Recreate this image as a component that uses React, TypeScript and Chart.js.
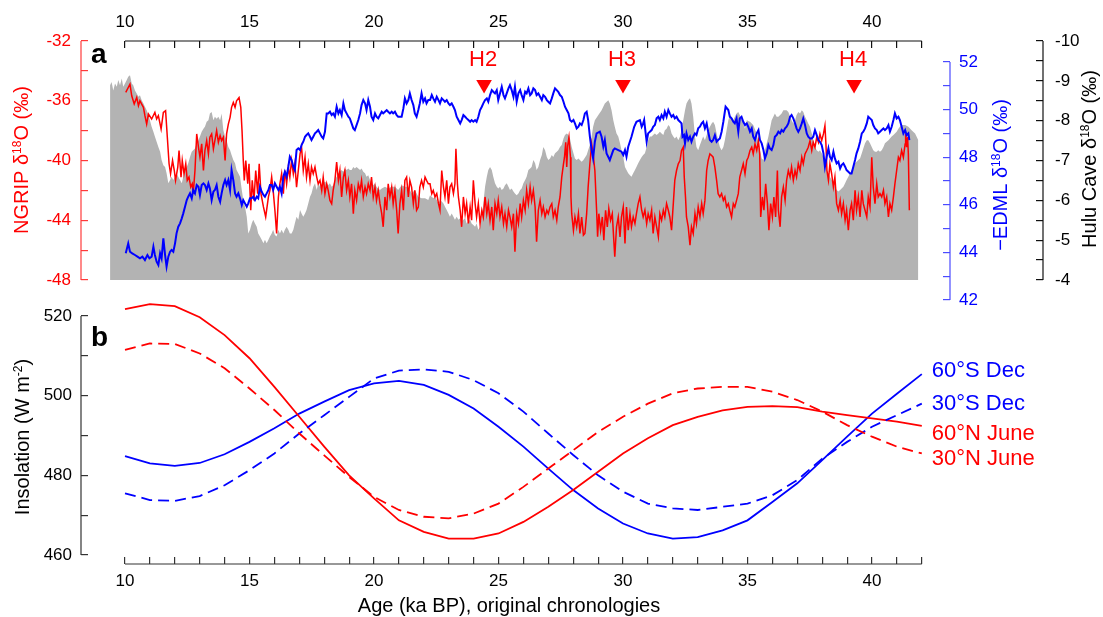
import React, { useEffect, useRef } from 'react';
import { Chart, registerables } from 'chart.js';

Chart.register(...registerables);

const FONT = '"Liberation Sans", Arial, Helvetica, sans-serif';

// ---------------- axis ticks ----------------
const ageTicks = [10, 11, 12, 13, 14, 15, 16, 17, 18, 19, 20, 21, 22, 23, 24, 25, 26, 27, 28, 29, 30, 31, 32, 33, 34, 35, 36, 37, 38, 39, 40, 41, 42];
const ngripTicks = [-48, -46, -44, -42, -40, -38, -36, -34, -32];
const edmlTicks = [42, 43, 44, 45, 46, 47, 48, 49, 50, 51, 52];
const huluTicks = [-10, -9.5, -9, -8.5, -8, -7.5, -7, -6.5, -6, -5.5, -5, -4.5, -4];
const insolTicks = [460, 470, 480, 490, 500, 510, 520];

// ---------------- panel a data: [age ka BP, value] ----------------
const ngrip: [number, number][] = [
  [10.03, -35.44], [10.2, -34.89], [10.27, -35.67], [10.37, -36.22], [10.47, -35.78], [10.54, -36.33], [10.6, -36], [10.67, -36.22], [10.74, -36.44], [10.8, -37], [10.87, -37.56], [10.94, -36.89], [11.07, -37.22], [11.2, -36.78], [11.27, -37.22], [11.34, -37], [11.45, -37.89], [11.54, -36.78], [11.63, -36.67], [11.7, -38.44], [11.77, -40.22], [11.83, -40.89], [11.91, -40], [11.98, -40.67], [12.03, -41.33], [12.12, -40.44], [12.17, -39.33], [12.25, -41.11], [12.3, -40], [12.37, -40.89], [12.44, -40.22], [12.5, -41.33], [12.57, -41.11], [12.64, -41.78], [12.7, -41.56], [12.74, -42.22], [12.81, -40.67], [12.88, -38.22], [12.95, -39.11], [13.01, -39.78], [13.08, -38.89], [13.15, -40.67], [13.21, -39.33], [13.28, -38.67], [13.35, -39.56], [13.41, -38.44], [13.48, -38.22], [13.55, -39.22], [13.61, -38.67], [13.68, -38], [13.75, -38.78], [13.82, -38.33], [13.88, -38.67], [13.95, -38.44], [14.02, -40], [14.08, -38.22], [14.15, -37.56], [14.22, -37.11], [14.28, -36.44], [14.35, -36.11], [14.42, -36.44], [14.48, -36], [14.58, -35.78], [14.65, -36.44], [14.7, -38], [14.75, -40], [14.79, -41.33], [14.85, -40], [14.93, -41.56], [14.98, -40.22], [15.05, -43.33], [15.11, -41.33], [15.18, -42.67], [15.25, -40.67], [15.33, -42.22], [15.39, -40.22], [15.46, -42.22], [15.56, -43.11], [15.65, -43.78], [15.76, -42.44], [15.82, -42],
  [15.89, -41.11], [15.95, -42], [16.02, -43.33], [16.09, -44.89], [16.16, -42.44], [16.22, -41.56], [16.29, -40.89], [16.36, -42.22], [16.42, -40.67], [16.49, -41.56], [16.56, -40.44], [16.62, -41.11], [16.69, -40], [16.76, -40.89], [16.82, -40.22], [16.89, -41.78], [16.96, -40.67], [17.03, -39.56], [17.09, -39.11], [17.16, -40.67], [17.23, -39.78], [17.29, -41.11], [17.36, -40.22], [17.43, -41.33], [17.49, -40.44], [17.56, -40.89], [17.63, -40.44], [17.7, -41.11], [17.76, -41.56], [17.83, -41.33], [17.9, -42], [17.96, -41.11], [18.03, -42.22], [18.1, -41.56], [18.16, -42], [18.23, -42.67], [18.3, -42.89], [18.36, -42], [18.43, -41.33], [18.5, -40.11], [18.57, -41.33], [18.63, -40.67], [18.7, -42.44], [18.77, -41.11], [18.83, -40.67], [18.9, -42], [18.97, -41.33], [19.03, -42.44], [19.1, -41.56], [19.17, -43.56], [19.23, -42], [19.3, -42.67], [19.37, -41.56], [19.44, -42], [19.5, -41.33], [19.57, -42.44], [19.64, -41.78], [19.7, -42.22], [19.77, -41.56], [19.84, -42], [19.9, -41.11], [19.97, -42.44], [20.04, -41.78], [20.1, -42.67], [20.17, -42], [20.24, -42.89], [20.31, -43.56], [20.37, -44.44], [20.44, -42.44], [20.51, -43.33], [20.57, -41.56], [20.64, -42.44], [20.71, -41.78], [20.77, -42.89], [20.84, -42], [20.91, -43.33], [20.97, -44.89], [21.04, -42.89], [21.11, -42], [21.18, -43.33], [21.24, -41.33], [21.31, -41.11], [21.38, -42.44], [21.44, -41.33], [21.51, -41.78], [21.58, -42.89], [21.64, -42], [21.71, -43.33], [21.78, -43.11], [21.84, -41.78], [21.91, -41.33], [21.98, -41.78], [22.05, -41.11], [22.11, -41.33], [22.18, -41.56],
  [22.25, -41.56], [22.32, -42.22], [22.38, -42], [22.45, -42.44], [22.52, -42.22], [22.59, -42.89], [22.65, -43.33], [22.72, -40.67], [22.79, -41.78], [22.85, -42.44], [22.92, -41.33], [22.99, -42.89], [23.05, -41.78], [23.12, -41.56], [23.19, -42.22], [23.25, -41.56], [23.29, -39.22], [23.35, -41.56], [23.39, -42.44], [23.46, -43.33], [23.52, -44.44], [23.59, -42.44], [23.66, -43.56], [23.72, -42.89], [23.79, -44.22], [23.86, -43.11], [23.92, -44], [23.99, -41.33], [24.06, -42.89], [24.12, -43.78], [24.19, -42.89], [24.26, -44.22], [24.33, -43.33], [24.39, -43.78], [24.46, -42.44], [24.53, -43.56], [24.59, -42.89], [24.66, -44], [24.73, -43.11], [24.79, -44.67], [24.86, -42.89], [24.93, -43.56], [24.99, -42.67], [25.06, -43.78], [25.13, -43.11], [25.2, -44.22], [25.26, -43.56], [25.33, -44.44], [25.4, -43.33], [25.46, -43.78], [25.53, -44.44], [25.6, -43.56], [25.66, -46.11], [25.73, -43.56], [25.8, -44.22], [25.87, -42.89], [25.93, -43.78], [26, -42.67], [26.07, -43.33], [26.13, -42], [26.2, -42.89], [26.27, -41.78], [26.33, -42.67], [26.4, -42], [26.47, -43.11], [26.53, -45.44], [26.6, -43.33], [26.67, -42.67], [26.74, -43.56], [26.8, -43.11], [26.87, -43.78], [26.94, -43.33], [27, -43.56], [27.07, -43.11], [27.14, -42.89], [27.2, -43.78], [27.27, -43.33], [27.34, -44], [27.4, -43.11], [27.47, -42.44], [27.54, -41.11], [27.61, -40.22], [27.65, -39.78], [27.7, -38.78], [27.74, -40.44], [27.78, -39], [27.83, -38.44], [27.89, -39.78], [27.91, -42.44], [27.94, -43.56], [28.01, -44.67], [28.07, -43.78], [28.14, -44.44], [28.21, -43.56], [28.27, -44.89], [28.34, -43.78], [28.41, -45],
  [28.47, -44.89], [28.54, -43.56], [28.6, -41.78], [28.67, -40.22], [28.74, -38.9], [28.8, -39.56], [28.87, -40.67], [28.94, -43.33], [28.98, -45.11], [29.03, -43.56], [29.1, -44.67], [29.17, -43.78], [29.23, -45.33], [29.3, -43.33], [29.37, -44.44], [29.43, -43.22], [29.5, -44], [29.57, -43.56], [29.63, -45.33], [29.67, -46.44], [29.74, -44.44], [29.81, -43.78], [29.88, -45.11], [29.94, -43.78], [30.01, -43.11], [30.08, -45.56], [30.14, -43.11], [30.21, -44.67], [30.28, -43.56], [30.34, -44.44], [30.41, -43.78], [30.48, -44.22], [30.54, -43.56], [30.61, -42.89], [30.68, -42.44], [30.75, -43.33], [30.81, -43.78], [30.88, -43.33], [30.95, -44.22], [31.01, -43.56], [31.08, -44], [31.15, -43.33], [31.21, -44.89], [31.28, -43.78], [31.35, -44.44], [31.42, -45.11], [31.48, -43.56], [31.55, -44], [31.62, -43.33], [31.68, -43.78], [31.75, -42.89], [31.82, -43.33], [31.88, -43.78], [31.95, -44.67], [32.02, -42.89], [32.08, -41.33], [32.15, -40.67], [32.22, -40.22], [32.29, -40], [32.35, -39.33], [32.42, -39.11], [32.46, -41.11], [32.51, -42.44], [32.55, -43.78], [32.62, -44.44], [32.69, -45.67], [32.75, -44.44], [32.82, -44.89], [32.89, -43.56], [32.95, -44.22], [33.02, -43.11], [33.09, -43.78], [33.16, -42.89], [33.22, -43.56], [33.29, -42.67], [33.36, -40.67], [33.42, -40], [33.49, -39.56], [33.56, -39.67], [33.62, -39.78], [33.69, -40.44], [33.76, -41.33], [33.82, -42.22], [33.89, -42.44], [33.96, -42.22], [34.03, -42.67], [34.09, -42.44], [34.16, -43.11], [34.23, -42.89], [34.29, -43.33], [34.36, -43.78], [34.43, -42.89], [34.49, -43.11], [34.56, -42.67], [34.63, -42.22], [34.69, -41.11], [34.76, -40.67], [34.83, -40.22], [34.9, -40.89],
  [34.97, -40], [35.03, -39.78], [35.1, -39.33], [35.17, -39.11], [35.23, -39.56], [35.3, -38.89], [35.37, -39.33], [35.44, -38.67], [35.49, -39.56], [35.53, -43.78], [35.6, -42.44], [35.66, -43.33], [35.73, -41.56], [35.8, -42.89], [35.86, -44.67], [35.93, -42.89], [36, -43.78], [36.06, -42.44], [36.13, -43.78], [36.2, -40.67], [36.24, -43.33], [36.31, -44.44], [36.37, -42.44], [36.44, -41.78], [36.51, -42.67], [36.57, -41.33], [36.64, -40.67], [36.71, -41.11], [36.77, -40.44], [36.84, -41.33], [36.91, -40.67], [36.97, -41.11], [37.04, -40.22], [37.11, -40.67], [37.18, -39.78], [37.24, -40.22], [37.31, -39.56], [37.38, -39.33], [37.44, -39.11], [37.51, -38.67], [37.58, -39.33], [37.64, -38.78], [37.71, -39.11], [37.78, -38.44], [37.85, -38.78], [37.91, -38.22], [37.98, -38.67], [38.05, -38.22], [38.11, -37.67], [38.15, -38.89], [38.19, -40.67], [38.25, -41.33], [38.31, -40.22], [38.38, -40.89], [38.45, -41.78], [38.51, -41.11], [38.58, -42.89], [38.65, -43.33], [38.72, -42.67], [38.78, -43.56], [38.85, -42.89], [38.92, -44], [38.98, -43.33], [39.05, -44.67], [39.12, -43.33], [39.18, -42.89], [39.25, -44], [39.32, -42], [39.38, -43.33], [39.45, -42.44], [39.52, -43.78], [39.59, -42], [39.65, -42.89], [39.72, -43.33], [39.79, -43.78], [39.85, -42.44], [39.92, -43.11], [39.99, -39.78], [40.05, -41.78], [40.12, -42.89], [40.19, -41.56], [40.25, -42.44], [40.32, -42.22], [40.39, -42.44], [40.46, -42], [40.52, -42.89], [40.59, -42.44], [40.66, -43.78], [40.72, -42.89], [40.79, -43.33], [40.86, -42.44], [40.92, -41.56], [40.99, -40.67], [41.06, -39.78], [41.12, -40], [41.19, -39.33], [41.26, -39.78], [41.33, -38.89], [41.35, -38.22], [41.39, -39.11], [41.43, -38.44], [41.46, -39.56], [41.5, -43.33],
];

const edml: [number, number][] = [
  [10.03, 43.96], [10.13, 44.38], [10.2, 44.03], [10.29, 43.96], [10.4, 43.89], [10.5, 43.82], [10.6, 43.75], [10.7, 43.82], [10.8, 43.68], [10.9, 43.89], [10.98, 43.75], [11.07, 43.82], [11.14, 44.24], [11.2, 43.89], [11.27, 43.61], [11.34, 43.47], [11.41, 43.96], [11.47, 43.75], [11.54, 44.59], [11.61, 43.89], [11.67, 43.4], [11.74, 43.82], [11.81, 44.03], [11.87, 44.1], [11.94, 44.03], [12.01, 44.38], [12.07, 44.8], [12.14, 45.08], [12.21, 45.22], [12.28, 45.43], [12.34, 45.64], [12.41, 45.92], [12.48, 46.2], [12.54, 46.34], [12.61, 46.48], [12.68, 46.27], [12.74, 46.62], [12.81, 46.48], [12.88, 46.83], [12.95, 46.76], [13.01, 46.41], [13.08, 46.83], [13.15, 46.9], [13.21, 46.83], [13.28, 46.62], [13.35, 46.9], [13.41, 46.69], [13.48, 46.2], [13.55, 46.55], [13.61, 46.62], [13.68, 46.83], [13.75, 46.34], [13.82, 46.13], [13.88, 46.48], [13.95, 46.83], [14.02, 47.04], [14.08, 46.83], [14.15, 47.04], [14.22, 46.62], [14.28, 47.46], [14.35, 47.04], [14.42, 46.48], [14.48, 46.34], [14.55, 46.48], [14.62, 46.27], [14.69, 45.99], [14.75, 46.2], [14.82, 46.06], [14.89, 45.92], [14.95, 46.06], [15.02, 46.27], [15.09, 46.27], [15.15, 46.34], [15.22, 46.2], [15.29, 46.34], [15.35, 46.27], [15.42, 46.76], [15.49, 46.55], [15.56, 46.41], [15.62, 46.34], [15.69, 46.48], [15.76, 46.62], [15.82, 46.83],
  [15.89, 46.83], [15.95, 46.62], [16.02, 46.9], [16.09, 46.76], [16.16, 46.62], [16.22, 46.76], [16.29, 46.48], [16.36, 47.18], [16.42, 47.39], [16.49, 47.18], [16.56, 47.6], [16.62, 48.02], [16.69, 47.88], [16.76, 47.6], [16.82, 47.46], [16.89, 48.3], [16.96, 48.37], [17.03, 48.3], [17.09, 48.51], [17.16, 48.65], [17.23, 48.86], [17.29, 48.93], [17.36, 49], [17.43, 48.86], [17.49, 48.72], [17.56, 48.86], [17.63, 49], [17.7, 49.07], [17.76, 49.14], [17.83, 49], [17.9, 48.86], [17.96, 48.79], [18.03, 49.07], [18.1, 49.84], [18.16, 49.84], [18.23, 49.91], [18.3, 49.77], [18.36, 49.84], [18.43, 49.7], [18.5, 50.12], [18.57, 49.84], [18.63, 49.98], [18.7, 49.77], [18.77, 50.26], [18.83, 49.98], [18.9, 49.84], [18.97, 49.7], [19.03, 49.63], [19.1, 49.42], [19.17, 49.21], [19.23, 49.14], [19.3, 49.35], [19.37, 49.56], [19.44, 49.84], [19.5, 50.19], [19.57, 50.4], [19.64, 50.26], [19.7, 49.98], [19.77, 50.4], [19.84, 50.12], [19.9, 49.7], [19.97, 49.56], [20.04, 49.84], [20.1, 49.7], [20.17, 49.63], [20.24, 49.77], [20.31, 49.91], [20.37, 49.84], [20.44, 49.91], [20.51, 49.98], [20.57, 49.91], [20.64, 49.84], [20.71, 49.91], [20.77, 49.84], [20.84, 49.91], [20.91, 49.77], [20.97, 49.7], [21.04, 49.7], [21.11, 49.7], [21.18, 50.05], [21.24, 50.47], [21.31, 50.26], [21.38, 50.4], [21.44, 50.68], [21.51, 50.4], [21.58, 50.19], [21.64, 49.84], [21.71, 49.7], [21.78, 49.98], [21.84, 50.26], [21.91, 50.68], [21.98, 50.33], [22.05, 50.47], [22.11, 50.26], [22.18, 50.4],
  [22.25, 50.4], [22.32, 50.61], [22.38, 50.47], [22.45, 50.33], [22.52, 50.54], [22.59, 50.4], [22.65, 50.26], [22.72, 50.47], [22.79, 50.4], [22.85, 50.33], [22.92, 50.4], [22.99, 50.26], [23.05, 50.19], [23.12, 50.26], [23.19, 50.12], [23.25, 49.98], [23.32, 49.7], [23.39, 49.56], [23.46, 49.42], [23.52, 49.56], [23.59, 49.77], [23.66, 49.7], [23.72, 49.63], [23.79, 49.56], [23.86, 49.49], [23.92, 49.56], [23.99, 49.49], [24.06, 49.56], [24.12, 49.49], [24.19, 49.7], [24.26, 49.98], [24.33, 50.12], [24.39, 50.26], [24.46, 50.4], [24.53, 50.47], [24.59, 50.33], [24.66, 50.61], [24.73, 50.82], [24.79, 50.75], [24.86, 50.68], [24.93, 50.82], [24.99, 50.4], [25.06, 50.68], [25.13, 50.96], [25.2, 50.61], [25.26, 50.47], [25.33, 50.68], [25.4, 50.89], [25.46, 51.03], [25.53, 50.82], [25.6, 50.54], [25.66, 50.96], [25.73, 50.33], [25.8, 50.68], [25.87, 50.82], [25.93, 50.61], [26, 50.4], [26.07, 50.75], [26.13, 50.68], [26.2, 50.89], [26.27, 50.61], [26.33, 50.68], [26.4, 50.89], [26.47, 50.82], [26.53, 50.61], [26.6, 50.68], [26.67, 50.54], [26.74, 50.4], [26.8, 50.61], [26.87, 50.54], [26.94, 50.4], [27, 50.33], [27.07, 50.26], [27.14, 50.47], [27.2, 50.68], [27.27, 50.89], [27.34, 50.82], [27.4, 50.75], [27.47, 50.61], [27.54, 50.54], [27.61, 50.33], [27.67, 50.12], [27.74, 49.98], [27.81, 49.84], [27.87, 49.56], [27.94, 49.49], [28.01, 49.56], [28.07, 49.42], [28.14, 49.21], [28.21, 49.28], [28.27, 49.42], [28.34, 49.35], [28.41, 49.56],
  [28.47, 49.84], [28.54, 49.91], [28.6, 49.56], [28.67, 48.86], [28.74, 48.3], [28.8, 47.95], [28.87, 48.65], [28.94, 49], [29.07, 49.07], [29.14, 48.86], [29.21, 48.44], [29.27, 48.72], [29.34, 48.16], [29.47, 47.88], [29.61, 48.3], [29.67, 48.37], [29.81, 48.3], [29.94, 48.23], [30.01, 48.09], [30.08, 48.3], [30.14, 48.02], [30.21, 48.44], [30.34, 48.86], [30.45, 49.28], [30.54, 49.49], [30.68, 49.56], [30.75, 49.28], [30.81, 49.42], [30.85, 49.56], [30.91, 49], [30.95, 48.65], [31.01, 49], [31.15, 49.14], [31.21, 49.28], [31.28, 49.35], [31.35, 49.63], [31.42, 49.7], [31.48, 49.56], [31.55, 49.77], [31.62, 49.63], [31.68, 49.91], [31.75, 49.7], [31.82, 49.98], [31.88, 49.84], [31.95, 49.7], [32.02, 49.77], [32.08, 49.63], [32.15, 49.7], [32.22, 49.56], [32.29, 49.49], [32.35, 49.42], [32.39, 48.86], [32.45, 48.93], [32.49, 48.58], [32.55, 49], [32.62, 48.72], [32.69, 48.86], [32.75, 48.65], [32.82, 48.86], [32.89, 49], [32.95, 48.93], [33.02, 49.21], [33.09, 49.28], [33.16, 49.42], [33.22, 49.49], [33.29, 49.21], [33.36, 49.42], [33.42, 49.07], [33.49, 48.72], [33.56, 48.65], [33.62, 48.72], [33.69, 48.93], [33.76, 48.65], [33.82, 48.72], [33.89, 48.79], [33.96, 49.07], [34.03, 49.49], [34.12, 50.12], [34.23, 49.98], [34.29, 49.7], [34.36, 49.63], [34.43, 49.49], [34.49, 49.42], [34.56, 49.63], [34.63, 49.07], [34.69, 49.63], [34.76, 49.7], [34.83, 49.49], [34.9, 49.35],
  [34.97, 49.42], [35.03, 49.28], [35.1, 49.07], [35.17, 49.21], [35.23, 48.86], [35.3, 48.72], [35.37, 49], [35.44, 49.14], [35.5, 48.72], [35.57, 48.58], [35.64, 48.3], [35.7, 47.95], [35.77, 48.16], [35.84, 48.51], [35.9, 48.37], [35.97, 48.3], [36.04, 48.51], [36.1, 48.86], [36.17, 48.93], [36.24, 49.07], [36.31, 49], [36.37, 49.14], [36.44, 49.07], [36.51, 49.21], [36.57, 49.28], [36.64, 49.42], [36.71, 49.7], [36.77, 49.77], [36.84, 49.63], [36.91, 49.42], [36.97, 49.21], [37.04, 49.07], [37.11, 49.21], [37.18, 49.42], [37.24, 49.63], [37.31, 49.35], [37.38, 49], [37.44, 48.86], [37.51, 48.79], [37.58, 48.79], [37.64, 48.86], [37.71, 49.14], [37.78, 48.93], [37.85, 48.72], [37.91, 48.65], [37.98, 48.51], [38.05, 48.16], [38.11, 47.6], [38.18, 48.02], [38.25, 48.37], [38.31, 48.02], [38.38, 47.88], [38.45, 48.23], [38.51, 47.95], [38.58, 47.74], [38.65, 47.81], [38.72, 47.53], [38.78, 47.67], [38.85, 47.74], [38.92, 47.6], [38.98, 47.46], [39.05, 47.39], [39.12, 47.32], [39.18, 47.32], [39.25, 47.6], [39.32, 47.88], [39.38, 48.16], [39.45, 48.37], [39.52, 48.65], [39.59, 49], [39.65, 49.07], [39.72, 49.21], [39.79, 49.42], [39.85, 49.7], [39.92, 49.63], [39.99, 49.56], [40.05, 49.35], [40.12, 49.21], [40.19, 49.14], [40.25, 49], [40.32, 49.07], [40.39, 49.14], [40.46, 49.21], [40.52, 49.14], [40.59, 49.21], [40.66, 49.35], [40.72, 49.07], [40.79, 49.28], [40.86, 49.56], [40.92, 49.84], [40.99, 49.63], [41.06, 49.7], [41.12, 49.56], [41.19, 49.28], [41.26, 49], [41.33, 49.14], [41.39, 48.93], [41.46, 49], [41.5, 48.72],
];

const hulu: [number, number][] = [
  [9.4, -8.89], [9.46, -8.97], [9.53, -8.76], [9.6, -8.93], [9.67, -8.85], [9.73, -9.02], [9.8, -8.89], [9.87, -9.06], [9.93, -8.85], [10, -8.93], [10.07, -9.02], [10.13, -9.1], [10.2, -9.14], [10.27, -8.93], [10.33, -8.89], [10.4, -8.76], [10.47, -8.68], [10.54, -8.6], [10.6, -8.64], [10.67, -8.51], [10.74, -8.43], [10.8, -8.35], [10.87, -8.26], [10.94, -8.14], [11, -8.01], [11.07, -7.85], [11.14, -7.72], [11.2, -7.6], [11.27, -7.47], [11.34, -7.34], [11.41, -7.22], [11.47, -7.01], [11.54, -6.88], [11.61, -6.84], [11.67, -6.68], [11.74, -6.43], [11.81, -6.51], [11.87, -6.59], [11.94, -6.51], [12.01, -6.59], [12.07, -6.68], [12.14, -6.59], [12.21, -6.51], [12.28, -6.43], [12.34, -6.59], [12.41, -6.76], [12.48, -6.84], [12.54, -6.93], [12.61, -7.09], [12.68, -7.22], [12.74, -7.26], [12.81, -7.3], [12.88, -7.43], [12.95, -7.51], [13.01, -7.6], [13.08, -7.72], [13.15, -7.8], [13.21, -7.85], [13.28, -7.97], [13.35, -8.01], [13.41, -8.18], [13.48, -8.22], [13.55, -8.01], [13.61, -8.1], [13.68, -8.05], [13.75, -8.1], [13.82, -8.01], [13.88, -8.18], [13.95, -7.76], [14.02, -7.6], [14.08, -7.51], [14.15, -7.34], [14.22, -7.26], [14.28, -7.14], [14.35, -7.01], [14.42, -6.93], [14.48, -6.76], [14.55, -6.68], [14.62, -6.59], [14.69, -6.26], [14.75, -6.01], [14.82, -5.84], [14.89, -5.59], [14.95, -5.17], [15.02, -5.26], [15.09, -5.42], [15.15, -5.51], [15.22, -5.42], [15.29, -5.34], [15.35, -5.17], [15.42, -5.09], [15.49, -5.01], [15.56, -4.92], [15.62, -5.01], [15.69, -4.92], [15.76, -5.01], [15.82, -5.09],
  [15.89, -5.17], [15.95, -5.26], [16.02, -5.13], [16.09, -5.09], [16.16, -5.26], [16.22, -5.17], [16.29, -5.26], [16.36, -5.17], [16.42, -5.26], [16.49, -5.34], [16.56, -5.26], [16.62, -5.17], [16.69, -5.17], [16.76, -5.26], [16.82, -5.42], [16.89, -5.59], [16.96, -5.51], [17.03, -5.76], [17.09, -5.67], [17.16, -5.59], [17.23, -5.67], [17.29, -5.76], [17.36, -5.92], [17.43, -6.09], [17.49, -6.17], [17.56, -6.34], [17.63, -6.43], [17.7, -6.26], [17.76, -6.43], [17.83, -6.34], [17.9, -6.38], [17.96, -6.43], [18.03, -6.47], [18.1, -6.43], [18.16, -6.38], [18.23, -6.43], [18.3, -6.34], [18.36, -6.38], [18.43, -6.51], [18.5, -6.59], [18.57, -6.68], [18.63, -6.72], [18.7, -6.76], [18.77, -6.72], [18.83, -6.8], [18.9, -6.76], [18.97, -6.8], [19.03, -6.76], [19.1, -6.76], [19.17, -6.84], [19.23, -6.8], [19.3, -6.84], [19.37, -6.8], [19.44, -6.76], [19.5, -6.8], [19.57, -6.72], [19.64, -6.68], [19.7, -6.59], [19.77, -6.63], [19.84, -6.51], [19.9, -6.43], [19.97, -6.38], [20.04, -6.43], [20.1, -6.34], [20.17, -6.3], [20.24, -6.26], [20.31, -6.3], [20.44, -6.34], [20.57, -6.3], [20.71, -6.34], [20.84, -6.34], [20.97, -6.26], [21.11, -6.38], [21.24, -6.34], [21.38, -6.34], [21.51, -6.17], [21.64, -6.26], [21.78, -6.09], [21.91, -6.05], [22.05, -6.05], [22.18, -6.01],
  [22.25, -6.13], [22.32, -6.09], [22.38, -6.05], [22.45, -6.09], [22.52, -6.01], [22.59, -5.92], [22.65, -6.01], [22.72, -5.97], [22.79, -5.92], [22.85, -5.84], [22.92, -5.76], [22.99, -5.67], [23.05, -5.59], [23.12, -5.67], [23.19, -5.59], [23.25, -5.51], [23.32, -5.59], [23.39, -5.51], [23.46, -5.55], [23.52, -5.47], [23.59, -5.51], [23.66, -5.55], [23.72, -5.42], [23.79, -5.47], [23.86, -5.51], [23.92, -5.42], [23.99, -5.38], [24.06, -5.34], [24.12, -5.42], [24.19, -5.26], [24.26, -5.34], [24.33, -5.59], [24.39, -5.92], [24.46, -6.34], [24.53, -6.59], [24.59, -6.76], [24.66, -6.84], [24.73, -6.76], [24.79, -6.59], [24.86, -6.43], [24.93, -6.34], [24.99, -6.3], [25.06, -6.34], [25.13, -6.26], [25.2, -6.3], [25.26, -6.38], [25.33, -6.43], [25.4, -6.34], [25.46, -6.26], [25.53, -6.3], [25.6, -6.22], [25.66, -6.17], [25.73, -6.13], [25.8, -6.17], [25.87, -6.26], [25.93, -6.3], [26, -6.43], [26.07, -6.51], [26.13, -6.59], [26.2, -6.76], [26.27, -6.8], [26.33, -6.84], [26.4, -7.01], [26.47, -6.93], [26.53, -6.76], [26.6, -6.84], [26.67, -7.01], [26.74, -7.14], [26.8, -7.34], [26.87, -7.26], [26.94, -7.09], [27, -7.01], [27.07, -7.05], [27.14, -7.14], [27.2, -7.09], [27.27, -7.18], [27.34, -7.22], [27.4, -7.26], [27.47, -7.34], [27.54, -7.39], [27.61, -7.55], [27.67, -7.64], [27.74, -7.68], [27.81, -7.64], [27.87, -7.55], [27.94, -7.34], [28.01, -7.18], [28.07, -7.05], [28.14, -7.01], [28.21, -7.05], [28.27, -7.01], [28.34, -6.97], [28.41, -7.01],
  [28.54, -7.14], [28.6, -7.26], [28.67, -7.39], [28.74, -7.6], [28.8, -7.85], [28.87, -8.01], [29.01, -8.14], [29.14, -8.26], [29.27, -8.43], [29.41, -8.51], [29.47, -8.43], [29.54, -8.26], [29.61, -8.01], [29.67, -7.85], [29.74, -7.68], [29.81, -7.6], [29.88, -7.43], [29.94, -7.26], [30.01, -7.09], [30.08, -6.84], [30.14, -6.76], [30.21, -6.68], [30.28, -6.63], [30.34, -6.59], [30.41, -6.68], [30.48, -6.76], [30.54, -6.84], [30.61, -6.93], [30.68, -7.01], [30.75, -7.09], [30.81, -7.14], [30.88, -7.18], [30.95, -7.34], [31.01, -7.51], [31.08, -7.6], [31.15, -7.6], [31.21, -7.64], [31.28, -7.68], [31.35, -7.64], [31.42, -7.68], [31.48, -7.72], [31.55, -7.68], [31.62, -7.64], [31.68, -7.76], [31.75, -7.8], [31.82, -7.89], [31.88, -7.85], [31.95, -7.68], [32.02, -7.6], [32.08, -7.55], [32.15, -7.6], [32.22, -7.51], [32.29, -7.6], [32.35, -7.76], [32.42, -8.01], [32.49, -8.26], [32.55, -8.43], [32.62, -8.51], [32.69, -8.56], [32.75, -8.43], [32.82, -8.1], [32.89, -7.6], [32.95, -7.34], [33.02, -7.26], [33.09, -7.39], [33.16, -7.51], [33.22, -7.6], [33.29, -7.51], [33.36, -7.64], [33.42, -7.76], [33.49, -7.85], [33.56, -7.93], [33.62, -7.97], [33.69, -7.89], [33.76, -7.68], [33.82, -7.51], [33.89, -7.34], [33.96, -7.26], [34.03, -7.34], [34.09, -7.51], [34.16, -7.76], [34.23, -8.01], [34.29, -8.14], [34.36, -8.1], [34.43, -8.01], [34.49, -8.1], [34.56, -8.18], [34.63, -8.22], [34.69, -8.14], [34.76, -8.05], [34.83, -7.93], [34.9, -7.8],
  [34.97, -8.01], [35.1, -7.97], [35.23, -7.89], [35.37, -7.68], [35.5, -7.26], [35.57, -7.05], [35.64, -7.01], [35.7, -7.26], [35.84, -7.6], [35.97, -8.01], [36.1, -8.18], [36.17, -8.1], [36.24, -8.1], [36.37, -8.18], [36.44, -8.26], [36.57, -8.26], [36.64, -8.22], [36.71, -8.1], [36.77, -8.01], [36.84, -7.93], [36.91, -8.01], [36.97, -8.14], [37.04, -8.22], [37.11, -8.18], [37.18, -8.26], [37.24, -8.22], [37.31, -8.1], [37.38, -8.01], [37.44, -7.93], [37.51, -7.85], [37.58, -7.68], [37.64, -7.51], [37.71, -7.34], [37.78, -7.26], [37.85, -7.22], [37.91, -7.26], [37.98, -7.18], [38.05, -7.09], [38.11, -6.93], [38.18, -6.76], [38.25, -6.68], [38.31, -6.59], [38.38, -6.51], [38.45, -6.43], [38.51, -6.34], [38.58, -6.26], [38.65, -6.22], [38.72, -6.26], [38.78, -6.3], [38.85, -6.34], [38.92, -6.43], [38.98, -6.51], [39.05, -6.59], [39.12, -6.68], [39.18, -6.76], [39.25, -6.84], [39.32, -6.93], [39.38, -6.97], [39.45, -7.01], [39.52, -7.05], [39.59, -7.18], [39.65, -7.3], [39.72, -7.43], [39.79, -7.51], [39.85, -7.51], [39.92, -7.43], [39.99, -7.34], [40.05, -7.26], [40.12, -7.22], [40.19, -7.22], [40.25, -7.26], [40.32, -7.22], [40.39, -7.26], [40.46, -7.34], [40.52, -7.43], [40.59, -7.47], [40.66, -7.51], [40.72, -7.55], [40.79, -7.6], [40.86, -7.64], [40.92, -7.68], [40.99, -7.72], [41.06, -7.8], [41.12, -7.85], [41.19, -7.89], [41.33, -7.89], [41.46, -7.85], [41.59, -7.76], [41.73, -7.68], [41.86, -7.51],
];

const heinrichNames = ['H2', 'H3', 'H4'];
const heinrichAges = [24.42, 30.0, 39.28];
const heinrichLevel = -34.91; // marker height on the NGRIP axis

// ---------------- panel b data: insolation (W m-2) ----------------
const insolAges = [10, 11, 12, 13, 14, 15, 16, 17, 18, 19, 20, 21, 22, 23, 24, 25, 26, 27, 28, 29, 30, 31, 32, 33, 34, 35, 36, 37, 38, 39, 40, 41, 42];
const n60June = [521.7, 523.0, 522.5, 519.7, 515.2, 509.4, 502.2, 494.7, 487.2, 480.0, 474.2, 468.7, 465.8, 464.1, 464.1, 465.4, 468.3, 472.1, 476.3, 480.9, 485.5, 489.3, 492.6, 494.7, 496.3, 497.2, 497.4, 497.1, 496.0, 495.1, 494.3, 493.5, 492.4];
const n30June = [511.5, 513.1, 513.0, 510.6, 506.9, 501.8, 496.4, 490.5, 485.0, 479.6, 474.6, 471.3, 469.6, 469.2, 470.4, 472.9, 477.1, 481.7, 486.3, 490.9, 494.7, 498.0, 500.6, 501.8, 502.2, 502.2, 501.0, 498.9, 496.0, 492.6, 489.7, 487.2, 485.5];
const s60Dec = [484.8, 483.0, 482.4, 483.1, 485.3, 488.4, 491.8, 495.5, 498.5, 501.4, 503.1, 503.7, 502.7, 500.2, 496.8, 492.2, 487.2, 481.7, 476.3, 471.7, 467.9, 465.4, 464.1, 464.5, 466.2, 468.7, 473.3, 478.0, 483.8, 489.7, 495.5, 500.5, 505.4];
const s30Dec = [475.5, 473.8, 473.6, 474.8, 477.5, 481.3, 485.5, 490.5, 495.1, 499.7, 504.3, 506.3, 506.6, 506.0, 503.9, 500.6, 496.0, 490.5, 485.1, 480.0, 475.9, 472.9, 471.7, 471.3, 472.1, 472.9, 475.0, 478.8, 484.2, 488.4, 492.2, 495.1, 498.0];
const insolLabels = ['60°S Dec', '30°S Dec', '60°N June', '30°N June'];
const insolLabelLevels = [506.6, 498.4, 490.9, 484.6];
const insolLabelColors = ['#0000ff', '#0000ff', '#ff0000', '#ff0000'];

// ---------------- helpers ----------------
const X_MIN = 8.2329;
const X_MAX = 43.1325;
const RED = '#ff0000';
const BLUE = '#0000ff';

type Part = { t: string; sup?: boolean };

function drawRich(ctx: CanvasRenderingContext2D, parts: Part[], x: number, y: number, size: number, color: string, rotate: boolean, align: 'center' | 'left' = 'center', bold = false) {
  ctx.save();
  ctx.translate(x, y);
  if (rotate) ctx.rotate(-Math.PI / 2);
  const fBase = `${bold ? 'bold ' : ''}${size}px ${FONT}`;
  const fSup = `${Math.round(size * 0.62)}px ${FONT}`;
  let total = 0;
  const widths = parts.map((p) => {
    ctx.font = p.sup ? fSup : fBase;
    const w = ctx.measureText(p.t).width;
    total += w;
    return w;
  });
  let cx = align === 'center' ? -total / 2 : 0;
  const base = size * 0.36;
  ctx.fillStyle = color;
  ctx.textAlign = 'left';
  ctx.textBaseline = 'alphabetic';
  parts.forEach((p, i) => {
    ctx.font = p.sup ? fSup : fBase;
    ctx.fillText(p.t, cx, p.sup ? base - size * 0.38 : base);
    cx += widths[i];
  });
  ctx.restore();
}

function seg(ctx: CanvasRenderingContext2D, x1: number, y1: number, x2: number, y2: number, color: string) {
  ctx.beginPath();
  ctx.strokeStyle = color;
  ctx.lineWidth = 1.2;
  ctx.moveTo(x1, y1);
  ctx.lineTo(x2, y2);
  ctx.stroke();
}

const tickFont = { size: 17, family: FONT };
const setTicks = (list: number[]) => (s: any) => {
  s.ticks = list.map((v) => ({ value: v }));
};

function makeTopConfig(): any {
  const plugin = {
    id: 'panelA',
    afterDraw(chart: any) {
      const { ctx, chartArea, scales } = chart;
      const x = scales.x, yN = scales.yN, yE = scales.yE, yH = scales.yH;
      ctx.save();
      seg(ctx, x.getPixelForValue(ageTicks[0]), chartArea.top, x.getPixelForValue(ageTicks[ageTicks.length - 1]), chartArea.top, '#111');
      seg(ctx, chartArea.left, yN.getPixelForValue(ngripTicks[ngripTicks.length - 1]), chartArea.left, yN.getPixelForValue(ngripTicks[0]), '#ff3b3b');
      seg(ctx, chartArea.right, yE.getPixelForValue(edmlTicks[edmlTicks.length - 1]), chartArea.right, yE.getPixelForValue(edmlTicks[0]), '#4a4aff');
      seg(ctx, yH.left, yH.getPixelForValue(huluTicks[0]), yH.left, yH.getPixelForValue(huluTicks[huluTicks.length - 1]), '#111');
      // axis titles
      drawRich(ctx, [{ t: 'NGRIP δ' }, { t: '18', sup: true }, { t: 'O (‰)' }], 21, 160, 20, RED, true);
      drawRich(ctx, [{ t: '−EDML δ' }, { t: '18', sup: true }, { t: 'O (‰)' }], 1000, 175, 20, BLUE, true);
      drawRich(ctx, [{ t: 'Hulu Cave δ' }, { t: '18', sup: true }, { t: 'O (‰)' }], 1089, 159, 20, '#000', true);
      // panel letter
      ctx.font = `bold 28px ${FONT}`;
      ctx.fillStyle = '#000';
      ctx.textAlign = 'left';
      ctx.textBaseline = 'alphabetic';
      ctx.fillText('a', 91, 63);
      // Heinrich labels
      heinrichAges.forEach((a, i) => {
        const px = x.getPixelForValue(a);
        const py = yN.getPixelForValue(heinrichLevel);
        drawRich(ctx, [{ t: heinrichNames[i] }], px - 1, py - 26, 22, RED, false);
      });
      ctx.restore();
    },
  };
  return {
    type: 'line',
    data: {
      datasets: [
        { label: 'Hulu Cave', data: hulu.map(([a, v]) => ({ x: a, y: v })), yAxisID: 'yH', borderColor: 'rgba(0,0,0,0)', borderWidth: 0, backgroundColor: '#b3b3b3', fill: { value: -4 }, pointRadius: 0, order: 4 },
        { label: 'NGRIP', data: ngrip.map(([a, v]) => ({ x: a, y: v })), yAxisID: 'yN', borderColor: RED, borderWidth: 1.5, pointRadius: 0, fill: false, order: 3 },
        { label: 'EDML', data: edml.map(([a, v]) => ({ x: a, y: v })), yAxisID: 'yE', borderColor: BLUE, borderWidth: 2, pointRadius: 0, fill: false, order: 2 },
        { label: 'Heinrich', data: heinrichAges.map((a) => ({ x: a, y: heinrichLevel })), yAxisID: 'yN', showLine: false, pointStyle: 'triangle', pointRotation: 180, pointRadius: 9, pointBackgroundColor: RED, pointBorderColor: RED, pointBorderWidth: 0, order: 1 },
      ],
    },
    options: {
      responsive: false,
      animation: false,
      events: [],
      layout: { padding: { top: 0, left: 0, right: 0, bottom: 10 }, autoPadding: false },
      plugins: { legend: { display: false }, tooltip: { enabled: false } },
      scales: {
        x: {
          type: 'linear', position: 'top', min: X_MIN, max: X_MAX,
          afterBuildTicks: setTicks(ageTicks),
          afterFit: (s: any) => { s.height = 41; s.paddingLeft = 0; s.paddingRight = 0; },
          ticks: { autoSkip: false, maxRotation: 0, minRotation: 0, padding: 15, color: '#000', font: tickFont, callback: (v: number) => (v % 5 === 0 && v <= 40 ? String(v) : '') },
          grid: { drawOnChartArea: false, drawTicks: true, tickLength: -7, color: '#111', lineWidth: 1.2 },
          border: { display: false },
        },
        yN: {
          type: 'linear', position: 'left', min: -49.339, max: -32,
          afterBuildTicks: setTicks(ngripTicks),
          afterFit: (s: any) => { s.width = 81; s.paddingTop = 0; s.paddingBottom = 0; },
          ticks: { autoSkip: false, padding: 17, color: RED, font: tickFont, callback: (v: number) => (v % 4 === 0 ? String(v) : '') },
          grid: { drawOnChartArea: false, drawTicks: true, tickLength: -7, color: '#ff3b3b', lineWidth: 1.2 },
          border: { display: false },
        },
        yE: {
          type: 'linear', position: 'right', weight: 0, min: 42, max: 52.882,
          afterBuildTicks: setTicks(edmlTicks),
          afterFit: (s: any) => { s.width = 93; s.paddingTop = 0; s.paddingBottom = 0; },
          ticks: { autoSkip: false, padding: 16, color: BLUE, font: tickFont, callback: (v: number) => (v % 2 === 0 ? String(v) : '') },
          grid: { drawOnChartArea: false, drawTicks: true, tickLength: -7, color: '#4a4aff', lineWidth: 1.2 },
          border: { display: false },
        },
        yH: {
          type: 'linear', position: 'right', weight: 1, reverse: true, min: -10, max: -3.498,
          afterBuildTicks: setTicks(huluTicks),
          afterFit: (s: any) => { s.width = 60; s.paddingTop = 0; s.paddingBottom = 0; },
          ticks: { autoSkip: false, padding: 19, color: '#000', font: tickFont, callback: (v: number) => (Number.isInteger(v) ? String(v) : '') },
          grid: { drawOnChartArea: false, drawTicks: true, tickLength: -7, color: '#111', lineWidth: 1.2 },
          border: { display: false },
        },
      },
    },
    plugins: [plugin],
  };
}

function makeBottomConfig(): any {
  const plugin = {
    id: 'panelB',
    afterDraw(chart: any) {
      const { ctx, chartArea, scales } = chart;
      const x = scales.x, y = scales.y;
      ctx.save();
      seg(ctx, x.getPixelForValue(ageTicks[0]), chartArea.bottom, x.getPixelForValue(ageTicks[ageTicks.length - 1]), chartArea.bottom, '#333');
      seg(ctx, chartArea.left, y.getPixelForValue(insolTicks[0]), chartArea.left, y.getPixelForValue(insolTicks[insolTicks.length - 1]), '#333');
      drawRich(ctx, [{ t: 'Insolation (W m' }, { t: '-2', sup: true }, { t: ')' }], 22, 147, 20, '#000', true);
      drawRich(ctx, [{ t: 'Age (ka BP), original chronologies' }], 509, 315, 20, '#000', false);
      ctx.font = `bold 28px ${FONT}`;
      ctx.fillStyle = '#000';
      ctx.textAlign = 'left';
      ctx.textBaseline = 'alphabetic';
      ctx.fillText('b', 91, 56);
      const lx = x.getPixelForValue(insolAges[insolAges.length - 1]) + 10;
      insolLabels.forEach((lab, i) => {
        drawRich(ctx, [{ t: lab }], lx, y.getPixelForValue(insolLabelLevels[i]), 22, insolLabelColors[i], false, 'left');
      });
      ctx.restore();
    },
  };
  const ds = (label: string, vals: number[], color: string, dashed: boolean) => ({
    label,
    data: insolAges.map((a, i) => ({ x: a, y: vals[i] })),
    borderColor: color,
    borderWidth: 1.8,
    borderDash: dashed ? [11, 6] : [],
    pointRadius: 0,
    fill: false,
    tension: 0,
  });
  return {
    type: 'line',
    data: {
      datasets: [
        ds('30°N June', n30June, RED, true),
        ds('30°S Dec', s30Dec, BLUE, true),
        ds('60°N June', n60June, RED, false),
        ds('60°S Dec', s60Dec, BLUE, false),
      ],
    },
    options: {
      responsive: false,
      animation: false,
      events: [],
      layout: { padding: { top: 10, left: 0, right: 153, bottom: 0 }, autoPadding: false },
      plugins: { legend: { display: false }, tooltip: { enabled: false } },
      scales: {
        x: {
          type: 'linear', position: 'bottom', min: X_MIN, max: X_MAX,
          afterBuildTicks: setTicks(ageTicks),
          afterFit: (s: any) => { s.height = 53; s.paddingLeft = 0; s.paddingRight = 0; },
          ticks: { autoSkip: false, maxRotation: 0, minRotation: 0, padding: 14, color: '#000', font: tickFont, callback: (v: number) => (v % 5 === 0 && v <= 40 ? String(v) : '') },
          grid: { drawOnChartArea: false, drawTicks: true, tickLength: -7, color: '#333', lineWidth: 1.2 },
          border: { display: false },
        },
        y: {
          type: 'linear', position: 'left', min: 457.74, max: 524.02,
          afterBuildTicks: setTicks(insolTicks),
          afterFit: (s: any) => { s.width = 81; s.paddingTop = 0; s.paddingBottom = 0; },
          ticks: { autoSkip: false, padding: 16, color: '#000', font: tickFont, callback: (v: number) => (v % 20 === 0 ? String(v) : '') },
          grid: { drawOnChartArea: false, drawTicks: true, tickLength: -7, color: '#333', lineWidth: 1.2 },
          border: { display: false },
        },
      },
    },
    plugins: [plugin],
  };
}

export default function App() {
  const topRef = useRef<HTMLCanvasElement>(null);
  const botRef = useRef<HTMLCanvasElement>(null);
  useEffect(() => {
    const c1 = new Chart(topRef.current as HTMLCanvasElement, makeTopConfig());
    const c2 = new Chart(botRef.current as HTMLCanvasElement, makeBottomConfig());
    return () => {
      c1.destroy();
      c2.destroy();
    };
  }, []);
  return (
    <div style={{ position: 'absolute', left: 0, top: 0, width: 1103, height: 617, background: '#fff', overflow: 'hidden' }}>
      <canvas ref={botRef} width={1103} height={327} style={{ position: 'absolute', left: 0, top: 290, width: 1103, height: 327 }} />
      <canvas ref={topRef} width={1103} height={310} style={{ position: 'absolute', left: 0, top: 0, width: 1103, height: 310 }} />
    </div>
  );
}
